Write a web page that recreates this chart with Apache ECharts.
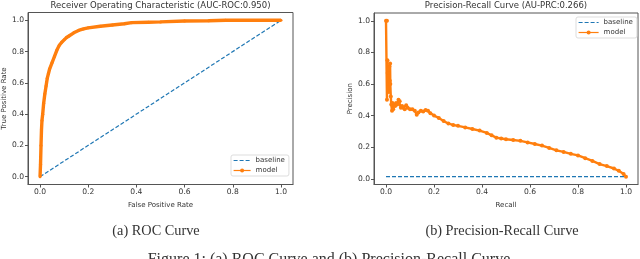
<!DOCTYPE html>
<html>
<head>
<meta charset="utf-8">
<script src="https://cdn.jsdelivr.net/npm/echarts@6/dist/echarts.min.js"></script>
<style>
html,body{margin:0;padding:0;background:#fff;}
#c{width:640px;height:259px;}
</style>
</head>
<body>
<div id="c"></div>
<script>
// ---- data ----
var tickValues = [0, 0.2, 0.4, 0.6, 0.8, 1.0];
var rocTitle = 'Receiver Operating Characteristic (AUC-ROC:0.950)';
var prTitle = 'Precision-Recall Curve (AU-PRC:0.266)';
var rocXLabel = 'False Positive Rate';
var rocYLabel = 'True Positive Rate';
var prXLabel = 'Recall';
var prYLabel = 'Precision';
var captionA = '(a) ROC Curve';
var captionB = '(b) Precision-Recall Curve';
var figCaption = 'Figure 1: (a) ROC Curve and (b) Precision-Recall Curve';
var seriesNames = ['baseline', 'model'];

var rocBaseline = [[0, 0], [1, 1]];
var rocModel = [
  [0, 0], [0.002, 0.08], [0.004, 0.2], [0.006, 0.3], [0.008, 0.36], [0.011, 0.4],
  [0.015, 0.47], [0.02, 0.53], [0.025, 0.58], [0.03, 0.63], [0.035, 0.66], [0.04, 0.69],
  [0.05, 0.73], [0.06, 0.77], [0.07, 0.81], [0.08, 0.84], [0.09, 0.86], [0.1, 0.875],
  [0.11, 0.89], [0.12, 0.9], [0.14, 0.92], [0.16, 0.935], [0.18, 0.945], [0.2, 0.952],
  [0.25, 0.962], [0.3, 0.97], [0.35, 0.978], [0.38, 0.985], [0.45, 0.988], [0.5, 0.99],
  [0.6, 0.996], [0.7, 0.997], [0.77, 1.0], [1.0, 1.0]
];

var prBaseline = [[0, 0.013], [1, 0.013]];
var prModel = [
  [0, 1.0], [0.004, 1.0], [0.004, 0.5], [0.006, 0.75], [0.007, 0.67], [0.009, 0.6],
  [0.011, 0.67], [0.012, 0.55], [0.014, 0.71], [0.016, 0.62], [0.017, 0.73], [0.018, 0.6],
  [0.02, 0.52], [0.022, 0.47], [0.025, 0.43], [0.027, 0.48], [0.03, 0.44], [0.034, 0.47],
  [0.038, 0.46], [0.042, 0.48], [0.047, 0.47], [0.052, 0.5], [0.057, 0.49], [0.062, 0.45],
  [0.067, 0.46], [0.072, 0.45], [0.078, 0.44], [0.084, 0.465], [0.09, 0.45], [0.1, 0.44],
  [0.11, 0.44], [0.12, 0.43], [0.128, 0.405], [0.135, 0.42], [0.145, 0.43], [0.155, 0.425],
  [0.165, 0.435], [0.175, 0.43], [0.185, 0.415], [0.2, 0.4], [0.22, 0.385], [0.24, 0.365],
  [0.26, 0.35], [0.28, 0.34], [0.3, 0.335], [0.33, 0.325], [0.36, 0.315], [0.39, 0.305],
  [0.42, 0.29], [0.44, 0.275], [0.46, 0.26], [0.48, 0.255], [0.5, 0.25], [0.53, 0.245],
  [0.56, 0.24], [0.59, 0.23], [0.62, 0.22], [0.65, 0.21], [0.68, 0.195], [0.71, 0.18],
  [0.74, 0.17], [0.77, 0.158], [0.8, 0.148], [0.83, 0.13], [0.86, 0.113], [0.89, 0.093],
  [0.92, 0.08], [0.95, 0.065], [0.97, 0.05], [0.99, 0.03], [1.0, 0.013]
];

// ---- styling ----
var BLUE = '#1f77b4', ORANGE = '#ff7f0e', SPINE = '#555', TXT = '#333';
var SANS = 'DejaVu Sans';
var FS = 7;
var TFS = 7.6;

function pad(lo, hi) { var r = hi - lo; return [lo - 0.05 * r, hi + 0.05 * r]; }
function yRange(arrs) {
  var lo = Infinity, hi = -Infinity;
  arrs.forEach(function (a) { a.forEach(function (p) { lo = Math.min(lo, p[1]); hi = Math.max(hi, p[1]); }); });
  return pad(lo, hi);
}
var rocY = yRange([rocBaseline, rocModel]);
var prY = yRange([prBaseline, prModel]);

function xAxis(gi, name) {
  return {
    gridIndex: gi, type: 'value', min: -0.05, max: 1.05,
    splitLine: { show: false },
    axisLine: { show: true, onZero: false, lineStyle: { color: SPINE, width: 1 } },
    axisTick: { show: true, customValues: tickValues, length: 3, lineStyle: { color: SPINE } },
    axisLabel: { customValues: tickValues, formatter: function (v) { return v.toFixed(1); },
      fontSize: TFS, color: TXT, fontFamily: SANS, margin: 4 },
    name: name, nameLocation: 'middle', nameGap: 13.5,
    nameTextStyle: { fontSize: FS, color: TXT, fontFamily: SANS }
  };
}
function yAxis(gi, name, rng, gap) {
  return {
    gridIndex: gi, type: 'value', min: rng[0], max: rng[1],
    splitLine: { show: false },
    axisLine: { show: true, onZero: false, lineStyle: { color: SPINE, width: 1 } },
    axisTick: { show: true, customValues: tickValues, length: 3, lineStyle: { color: SPINE } },
    axisLabel: { customValues: tickValues, formatter: function (v) { return v.toFixed(1); },
      fontSize: TFS, color: TXT, fontFamily: SANS, margin: 4 },
    name: name, nameLocation: 'middle', nameGap: gap,
    nameTextStyle: { fontSize: FS, color: TXT, fontFamily: SANS }
  };
}
function legend(left, top, itemWidth) {
  return {
    data: [
      { name: seriesNames[0], itemStyle: { opacity: 0 } },
      { name: seriesNames[1] }
    ],
    orient: 'vertical', left: left, top: top,
    padding: [2, 4, 2, 2], itemGap: 3, itemWidth: itemWidth, itemHeight: 5,
    borderColor: '#ddd', borderWidth: 1, borderRadius: 2, backgroundColor: 'rgba(255,255,255,0.8)',
    textStyle: { fontSize: FS, color: TXT, fontFamily: SANS, padding: [0, 0, 0, 0] },
    lineStyle: { width: 1.2 },
    selectedMode: false
  };
}
function textEl(x, y, text, font) {
  return { type: 'text', x: x, y: y, silent: true,
    style: { text: text, font: font, fill: TXT, align: 'center', verticalAlign: 'middle',
      textAlign: 'center', textVerticalAlign: 'middle' } };
}

var chart = echarts.init(document.getElementById('c'), null, { renderer: 'canvas' });
chart.setOption({
  animation: false,
  backgroundColor: '#fff',
  grid: [
    { left: 28, top: 12.5, width: 265, height: 172, show: true, borderColor: SPINE, borderWidth: 1, backgroundColor: 'transparent' },
    { left: 374, top: 13, width: 264, height: 171.5, show: true, borderColor: SPINE, borderWidth: 1, backgroundColor: 'transparent' }
  ],
  xAxis: [xAxis(0, rocXLabel), xAxis(1, prXLabel)],
  yAxis: [yAxis(0, rocYLabel, rocY, 19), yAxis(1, prYLabel, prY, 20)],
  legend: [legend(231, 155, 17), legend(576, 17, 20)],
  series: [
    { name: seriesNames[0], type: 'line', xAxisIndex: 0, yAxisIndex: 0, data: rocBaseline,
      symbol: 'none', lineStyle: { color: BLUE, width: 1.2, type: [4, 2] }, itemStyle: { color: BLUE } },
    { name: seriesNames[1], type: 'line', xAxisIndex: 0, yAxisIndex: 0, data: rocModel,
      symbol: 'circle', symbolSize: 3, showSymbol: true,
      lineStyle: { color: ORANGE, width: 3.4 }, itemStyle: { color: ORANGE } },
    { name: seriesNames[0], type: 'line', xAxisIndex: 1, yAxisIndex: 1, data: prBaseline,
      symbol: 'none', lineStyle: { color: BLUE, width: 1.2, type: [4, 2] }, itemStyle: { color: BLUE } },
    { name: seriesNames[1], type: 'line', xAxisIndex: 1, yAxisIndex: 1, data: prModel,
      symbol: 'circle', symbolSize: 4, showSymbol: true,
      lineStyle: { color: ORANGE, width: 2.4 }, itemStyle: { color: ORANGE } }
  ],
  graphic: [
    textEl(160.5, 6, rocTitle, '8.5px "DejaVu Sans"'),
    textEl(506, 6, prTitle, '8.5px "DejaVu Sans"'),
    textEl(156, 231, captionA, '14.3px "Liberation Serif"'),
    textEl(502, 231, captionB, '14.3px "Liberation Serif"'),
    textEl(329, 260.2, figCaption, '16px "Liberation Serif"')
  ]
});
</script>
</body>
</html>
